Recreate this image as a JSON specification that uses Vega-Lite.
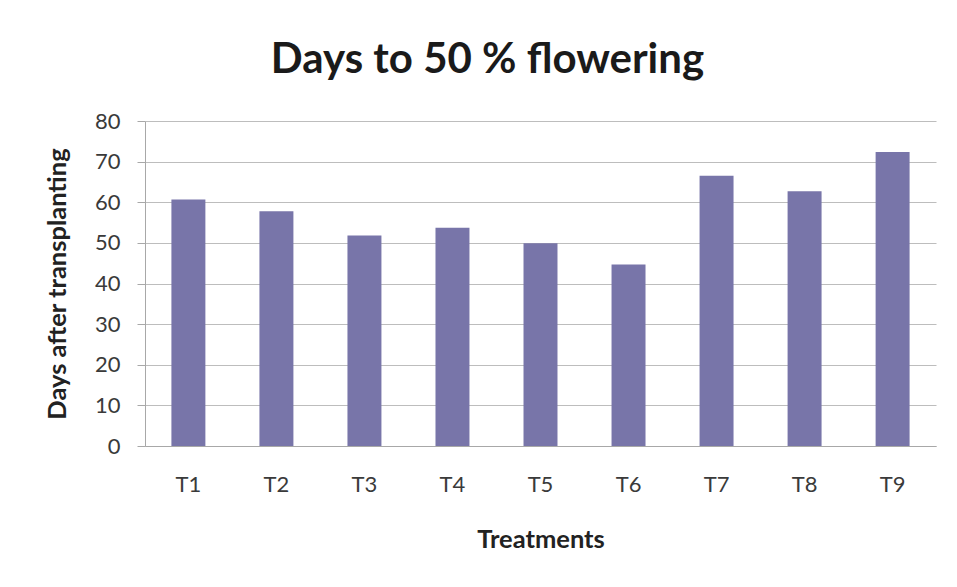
{
  "$schema": "https://vega.github.io/schema/vega-lite/v6.json",
  "width": 791,
  "height": 325,
  "autosize": {"type": "none"},
  "padding": {"left": 145, "top": 121, "right": 21, "bottom": 141},
  "background": "white",
  "title": {
    "text": "Days to 50 % flowering",
    "font": "Lato",
    "fontSize": 42,
    "fontWeight": "bold",
    "color": "#1a1a1a",
    "anchor": "middle",
    "frame": "group",
    "dx": -53,
    "offset": 28
  },
  "data": {
    "values": [
      {"treatment": "T1", "days": 60.7},
      {"treatment": "T2", "days": 57.8},
      {"treatment": "T3", "days": 51.8},
      {"treatment": "T4", "days": 53.7},
      {"treatment": "T5", "days": 49.9},
      {"treatment": "T6", "days": 44.7},
      {"treatment": "T7", "days": 66.5},
      {"treatment": "T8", "days": 62.7},
      {"treatment": "T9", "days": 72.4}
    ]
  },
  "mark": {"type": "bar", "color": "#7875a9"},
  "encoding": {
    "x": {
      "field": "treatment",
      "type": "nominal",
      "sort": null,
      "scale": {"paddingInner": 0.614, "paddingOuter": 0.3},
      "axis": {
        "title": "Treatments",
        "labelAngle": 0,
        "labelFont": "Lato",
        "labelFontSize": 22,
        "labelColor": "#3a3a3a",
        "labelPadding": 28,
        "ticks": false,
        "domainColor": "#a8a8a8",
        "titleFont": "Lato",
        "titleFontSize": 25.5,
        "titleFontWeight": "bold",
        "titleColor": "#222222",
        "titlePadding": 32
      }
    },
    "y": {
      "field": "days",
      "type": "quantitative",
      "scale": {"domain": [0, 80]},
      "axis": {
        "title": "Days after transplanting",
        "values": [0, 10, 20, 30, 40, 50, 60, 70, 80],
        "labelFont": "Lato",
        "labelFontSize": 22,
        "labelColor": "#3a3a3a",
        "labelPadding": 17,
        "tickSize": 8,
        "tickColor": "#a8a8a8",
        "domainColor": "#a8a8a8",
        "gridColor": "#bdbdbd",
        "titleFont": "Lato",
        "titleFontSize": 25.5,
        "titleFontWeight": "bold",
        "titleColor": "#222222",
        "titlePadding": 24
      }
    }
  },
  "config": {"view": {"stroke": null}}
}
